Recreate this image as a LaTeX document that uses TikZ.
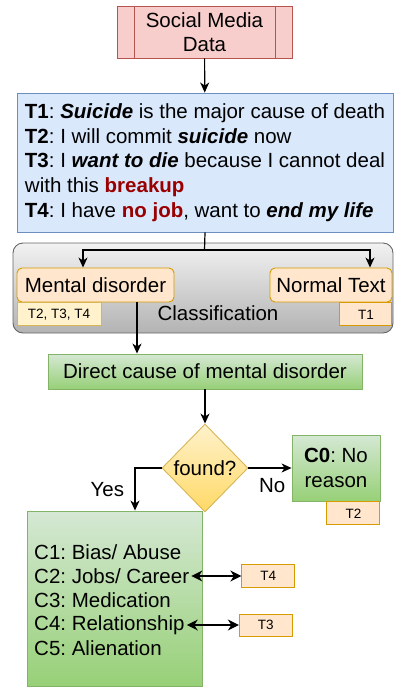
\documentclass[tikz,border=0pt]{standalone}
\usepackage{fontspec}
\setmainfont{Liberation Sans}
\usetikzlibrary{positioning,arrows.meta,shapes.geometric}
\frenchspacing

\definecolor{pinkfill}{HTML}{F8CECC}
\definecolor{pinkline}{HTML}{B85450}
\definecolor{bluefill}{HTML}{DAE8FC}
\definecolor{blueline}{HTML}{6C8EBF}
\definecolor{orangefill}{HTML}{FFE6CC}
\definecolor{orangeline}{HTML}{D79B00}
\definecolor{yellowfill}{HTML}{FFF2CC}
\definecolor{yellowline}{HTML}{D6B656}
\definecolor{yellowbot}{HTML}{FFD966}
\definecolor{greentop}{HTML}{D5E8D4}
\definecolor{greenbot}{HTML}{97D077}
\definecolor{greenline}{HTML}{82B366}
\definecolor{graytop}{HTML}{F2F2F2}
\definecolor{graybot}{HTML}{B3B3B3}
\definecolor{grayline}{HTML}{666666}
\definecolor{darkred}{HTML}{990000}

\begin{document}
\begin{tikzpicture}[x=1pt, y=-1pt, font=\fontsize{20.5}{24.6}\selectfont,
  box/.style={rectangle, draw, line width=0.9pt, inner sep=3pt},
  greenbox/.style={box, draw=greenline, top color=greentop, bottom color=greenbot},
  tagbox/.style={rectangle, draw=orangeline, fill=orangefill, line width=1pt, minimum height=23pt, inner sep=0pt, font=\fontsize{13.5}{16}\selectfont},
  cline/.style={anchor=west, inner sep=2pt},
  link/.style={line width=1.2pt, -{Stealth[length=10pt,width=9pt,inset=3pt]}},
  dlink/.style={line width=1.2pt, arrows={Stealth[length=11pt,width=11pt,inset=3.5pt]-Stealth[length=11pt,width=11pt,inset=3.5pt]}}]

  \useasboundingbox (0,0) rectangle (395,689);

  % input and posts
  \node[box, draw=pinkline, fill=pinkfill, minimum width=175pt, minimum height=52pt, align=center] (smd) at (204.5,32) {Social Media\\Data};
  \draw[pinkline, line width=0.9pt] ([xshift=18pt]smd.north west) -- ([xshift=18pt]smd.south west);
  \draw[pinkline, line width=0.9pt] ([xshift=-17pt]smd.north east) -- ([xshift=-17pt]smd.south east);
  \node[box, draw=blueline, fill=bluefill, minimum width=376pt, minimum height=139pt, align=left] (posts) at (205,162.5) {%
    \textbf{T1}: \textbf{\textit{Suicide}} is the major cause of death\\
    \textbf{T2}: I will commit \textbf{\textit{suicide}} now\\
    \textbf{T3}: I \textbf{\textit{want to die}} because I cannot deal\\
    with this \textbf{\color{darkred}breakup}\\
    \textbf{T4}: I have \textbf{\color{darkred}no job}, want to \textbf{\textit{end my life}}};

  % classification
  \node[box, draw=grayline, top color=graytop, bottom color=graybot, rounded corners=10pt, minimum width=380pt, minimum height=90pt] (classify) at (203,288) {};
  \node (clslabel) at (218,313) {Classification};
  \node[box, draw=orangeline, fill=orangefill, rounded corners=5pt, minimum width=157pt, minimum height=34pt] (mental) at (95.5,285) {Mental disorder};
  \node[tagbox, draw=yellowline, fill=yellowfill, minimum width=84pt, anchor=north west] (mtags) at (mental.south west) {T2, T3, T4};
  \node[box, draw=orangeline, fill=orangefill, rounded corners=5pt, minimum width=122pt, minimum height=34pt] (normal) at (331,285) {Normal Text};
  \node[tagbox, minimum width=52pt, anchor=north east] (ntag) at (normal.south east) {T1};

  % causes
  \node[greenbox, minimum width=314pt, minimum height=35pt] (cause) at (205,371.5) {Direct cause of mental disorder};
  \node[diamond, draw=yellowline, line width=0.9pt, top color=yellowfill, bottom color=yellowbot, minimum width=86pt, minimum height=88pt, inner sep=0pt] (found) at (205,468) {found?};
  \node[greenbox, minimum width=88pt, minimum height=66pt, align=center] (c0) at (336,468) {\textbf{C0}: No\\reason};
  \node[tagbox, minimum width=53pt, anchor=north east] (c0tag) at (c0.south east) {T2};
  \node[greenbox, minimum width=175pt, minimum height=175pt] (causes) at (114.5,598.5) {};
  \node[cline] (c1) at (32,552) {C1: Bias/ Abuse};
  \node[cline] (c2) at (32,576) {C2: Jobs/ Career};
  \node[cline] (c3) at (32,600) {C3: Medication};
  \node[cline] (c4) at (32,625) {C4: Relationship};
  \node[cline] (c5) at (32,648) {C5: Alienation};
  \node[tagbox, minimum width=53pt, right=50pt of c2] (t4) {T4};
  \node[tagbox, minimum width=53pt, minimum height=22pt, right=52pt of c4] (t3) {T3};

  \coordinate (split) at (204.5,250);
  \coordinate (lsplit) at (83,250);
  \coordinate (rsplit) at (370,250);

  \draw[link] (smd) -- (posts);
  \draw[line width=1.2pt] (posts.south) -- (split);
  \draw[link] (split) -- (lsplit) -- (lsplit |- mental.north);
  \draw[link] (split) -- (rsplit) -- (rsplit |- normal.north);
  \draw[link] ([xshift=41.5pt]mental.south) -- ([xshift=41.5pt]mental.south |- cause.north);
  \draw[link] (cause) -- (found);
  \draw[link] (found.east) -- node[below=6pt, pos=0.55] {No} (c0.west);
  \draw[link] (found.west) -| node[pos=0.75, left=7pt] {Yes} ([xshift=20.5pt]causes.north);
  \draw[dlink] (c2.east) -- (t4.west);
  \draw[dlink] (c4.east) -- (t3.west);
\end{tikzpicture}
\end{document}
